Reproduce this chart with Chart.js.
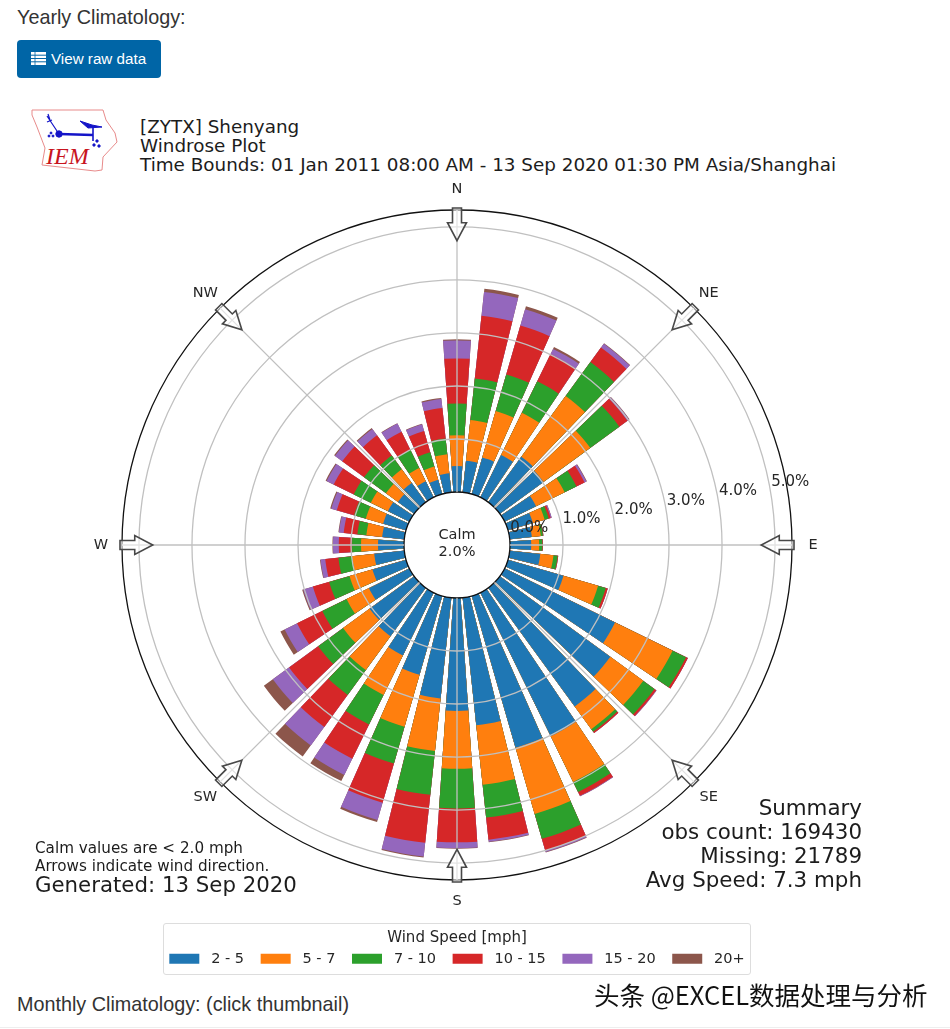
<!DOCTYPE html>
<html><head><meta charset="utf-8">
<script src="https://cdn.jsdelivr.net/npm/chart.js@4"></script>
<style>
html,body{margin:0;padding:0;background:#fff;width:950px;height:1029px;overflow:hidden}
.t{position:absolute;white-space:nowrap;line-height:1}
.h{font-family:"Liberation Sans",Arial,sans-serif;font-size:19.8px;color:#333;left:17px}
.m{font-family:"DejaVu Sans",sans-serif;color:#1c1c1c}
#btn{position:absolute;left:17px;top:40px;width:144px;height:38px;background:#0065a6;border-radius:4px;color:#fff;font:15.2px "Liberation Sans",Arial,sans-serif}
#btn span{position:absolute;left:34px;top:11px;line-height:1;white-space:nowrap}
#btn svg{position:absolute;left:14px;top:12px}
#frame{position:absolute;left:163px;top:923px;width:586px;height:50px;border:1.5px solid #ddd;border-radius:3px}
canvas{position:absolute;left:0;top:0}
#wrap{position:absolute;left:0;top:0;width:950px;height:976px}
</style></head><body>
<div class="t h" style="top:8px">Yearly Climatology:</div>
<div id="btn"><svg width="15" height="13" viewBox="0 0 15 13"><rect width="15" height="13" fill="#fff"/><path d="M0 3.2h15M0 6.5h15M0 9.8h15" stroke="#0065a6" stroke-width="1"/><path d="M4 0v13" stroke="#0065a6" stroke-width=".8"/></svg><span>View raw data</span></div>
<svg style="position:absolute;left:0;top:100px" width="130" height="80" viewBox="0 100 130 80">
<path d="M32 110L103 110L106 120L115 133L117 142L103 157L102 170L95 171L42 165L45 148L37 127L32 115Z" fill="none" stroke="#e88b8b" stroke-width="1"/>
<g stroke="#1414c8" fill="#1414c8">
<path d="M59 134L93 135" stroke-width="2.6"/><circle cx="59" cy="134" r="3.2"/>
<path d="M47 116L59 134M47 122L52 120M48 114L50 120" fill="none" stroke-width="1.2"/>
<path d="M80 121L92 125L102 127L88 128Z" stroke-width="1"/>
<path d="M93 127V141" stroke-width="1.6"/>
<circle cx="51" cy="133" r="1"/><circle cx="49" cy="136" r="1"/><circle cx="53" cy="136" r="1"/>
<circle cx="97" cy="141" r="1.2"/><circle cx="94" cy="145" r="1.2"/><circle cx="99" cy="146" r="1.2"/>
</g>
<text x="46" y="164" font-family="Liberation Serif" font-style="italic" font-size="24" fill="#c8141e">IEM</text>
</svg>
<div class="t m" style="left:140px;top:118px;font-size:18.35px">[ZYTX] Shenyang</div>
<div class="t m" style="left:140px;top:137px;font-size:18.35px">Windrose Plot</div>
<div class="t m" style="left:140px;top:156px;font-size:18.35px">Time Bounds: 01 Jan 2011 08:00 AM - 13 Sep 2020 01:30 PM Asia/Shanghai</div>
<div id="frame"></div>
<div id="wrap"><canvas id="c" width="950" height="976" style="width:950px;height:976px"></canvas></div>
<div class="t m" style="left:35px;top:841px;font-size:15.2px">Calm values are &lt; 2.0 mph</div>
<div class="t m" style="left:35px;top:859px;font-size:15.2px">Arrows indicate wind direction.</div>
<div class="t m" style="left:35px;top:874px;font-size:21.3px">Generated: 13 Sep 2020</div>
<div class="t m" style="right:88px;top:797px;font-size:21.4px">Summary</div>
<div class="t m" style="right:88px;top:821px;font-size:21.4px">obs count: 169430</div>
<div class="t m" style="right:88px;top:845px;font-size:21.4px">Missing: 21789</div>
<div class="t m" style="right:88px;top:869px;font-size:21.4px">Avg Speed: 7.3 mph</div>
<div class="t h" style="top:995px">Monthly Climatology: (click thumbnail)</div>
<div class="t" style="left:594px;top:981px;font:25.5px 'Noto Sans CJK SC','Liberation Sans',sans-serif;line-height:1;color:#111">头条 @EXCEL数据处理与分析</div>
<div style="position:absolute;left:0;top:1027px;width:950px;height:1px;background:#eee"></div>
<script>
const directions = [0,10,20,30,40,50,60,70,80,90,100,110,120,130,140,150,160,170,180,190,200,210,220,230,240,250,260,270,280,290,300,310,320,330,340,350];
const compassLabels = ['N','NE','E','SE','S','SW','W','NW'];
const speedBins = ['2 - 5','5 - 7','7 - 10','10 - 15','15 - 20','20+'];
const binColors = ['#1f77b4','#ff7f0e','#2ca02c','#d62728','#9467bd','#8c564b'];
const speed2to5   = [.49,.60,.72,.89,1.06,1.02,.66,.49,.42,.40,.58,1.09,2.32,2.58,2.77,3.02,2.98,2.42,2.13,1.91,1.55,1.32,1.13,1.04,.85,.66,.57,.49,.42,.45,.45,.38,.45,.34,.28,.36];
const speed5to7   = [.58,.77,.91,.89,1.42,1.09,.60,.23,.17,.15,.25,.68,1.21,.77,.53,.96,1.30,1.13,1.09,1.00,1.02,.83,.79,.62,.47,.45,.42,.32,.30,.34,.36,.28,.32,.28,.26,.36];
const speed7to10  = [.60,.79,.72,.66,.79,.68,.25,.08,.04,.06,.08,.15,.28,.26,.06,.21,.49,.62,.75,.83,.72,.62,.58,.58,.51,.40,.26,.17,.17,.23,.36,.51,.32,.38,.28,.30];
const speed10to15 = [.85,1.19,.96,.57,.34,.19,.17,.04,.01,.01,.01,.04,.04,.04,.03,.08,.23,.42,.64,.91,.77,.72,.75,.68,.53,.32,.25,.25,.26,.34,.42,.51,.47,.38,.42,.58];
const speed15to20 = [.34,.45,.32,.11,.09,.04,.04,.02,0,0,0,0,0,.01,0,.01,.03,.04,.11,.26,.34,.34,.43,.38,.26,.19,.09,.11,.09,.11,.15,.17,.15,.17,.13,.17];
const speed20plus = [.02,.06,.06,.04,.01,.01,.01,0,0,0,0,0,0,0,0,0,.01,.01,.01,.02,.04,.13,.26,.21,.09,.02,.01,.01,.01,.02,.02,.02,.02,.01,.01,.02];
const binSeries = [speed2to5,speed5to7,speed7to10,speed10to15,speed15to20,speed20plus];
const calmText = ['Calm','2.0%'];
const R_MIN = -1, R_MAX = 5.32, BAR_DEG = 7.8, GAP_DEG = 2.2;

/* each direction = one bar slot + one gap slot; polar-area arcs overlap, so each dataset holds the running total */
const labels = [];
directions.forEach(d => labels.push(d + '°', ''));
const running = directions.map(() => 0);
const datasets = binSeries.map((vals, b) => {
  const data = [];
  vals.forEach((v, i) => { running[i] += v; data.push(+running[i].toFixed(2), R_MIN); });
  return {label: speedBins[b], data, backgroundColor: binColors[b], borderWidth: 0,
          angle: ctx => ctx.dataIndex % 2 === 0 ? BAR_DEG : GAP_DEG};
});

const ink = '#262626';
const windrosePlugin = {
  id: 'windrose',
  afterDatasetsDraw(chart) {
    const s = chart.scales.r, c = chart.ctx;
    c.save();
    c.beginPath();
    c.arc(s.xCenter, s.yCenter, s.getDistanceFromCenterForValue(0), 0, Math.PI * 2);
    c.fillStyle = '#fff'; c.fill();
    c.restore();
  },
  afterDraw(chart) {
    const s = chart.scales.r, c = chart.ctx;
    const pt = (deg, r) => {
      const a = deg * Math.PI / 180;
      return {x: s.xCenter + r * Math.sin(a), y: s.yCenter - r * Math.cos(a)};
    };
    const r0 = s.getDistanceFromCenterForValue(0), rM = s.getDistanceFromCenterForValue(R_MAX);
    c.save();
    /* spokes */
    c.strokeStyle = '#c0c0c0'; c.lineWidth = 1.3;
    compassLabels.forEach((_, i) => {
      const a = pt(i * 45, r0), b = pt(i * 45, rM);
      c.beginPath(); c.moveTo(a.x, a.y); c.lineTo(b.x, b.y); c.stroke();
    });
    /* radial tick labels */
    c.fillStyle = ink; c.font = '15px "DejaVu Sans"'; c.textAlign = 'left'; c.textBaseline = 'alphabetic';
    s.ticks.forEach(t => {
      if (t.value < 0 || t.value > 5) return;
      const p = pt(80, s.getDistanceFromCenterForValue(t.value));
      c.fillText(t.value.toFixed(1) + '%', p.x + 1, p.y - 3.5);
    });
    /* arrows + compass labels */
    c.font = '14.5px "DejaVu Sans"';
    compassLabels.forEach((lab, i) => {
      const deg = i * 45, tipR = s.getDistanceFromCenterForValue(4.74), baseR = tipR + 18, endR = rM + 2;
      c.save();
      c.translate(s.xCenter, s.yCenter);
      c.rotate(deg * Math.PI / 180);
      c.beginPath();
      c.moveTo(0, -tipR); c.lineTo(9.5, -baseR); c.lineTo(4.5, -baseR);
      c.lineTo(4.5, -endR); c.lineTo(-4.5, -endR); c.lineTo(-4.5, -baseR); c.lineTo(-9.5, -baseR);
      c.closePath();
      c.fillStyle = 'rgba(255,255,255,.55)'; c.fill();
      c.strokeStyle = '#484848'; c.lineWidth = 1.6; c.stroke();
      c.restore();
      const p = pt(deg, s.getDistanceFromCenterForValue(5.717));
      c.fillStyle = ink; c.textAlign = 'center'; c.textBaseline = 'middle';
      c.fillText(lab, p.x, p.y);
    });
    c.fillStyle = ink; c.textAlign = 'center'; c.textBaseline = 'middle';
    c.fillText(calmText[0], s.xCenter, s.yCenter - 10);
    c.fillText(calmText[1], s.xCenter, s.yCenter + 7.5);
    c.restore();
  }
};

new Chart(document.getElementById('c'), {
  type: 'polarArea',
  data: {labels, datasets},
  plugins: [windrosePlugin],
  options: {
    responsive: false, animation: false,
    layout: {padding: {left: 122, right: 158, top: 209, bottom: 0}},
    scales: {r: {
      min: R_MIN, max: R_MAX, startAngle: -BAR_DEG / 2,
      ticks: {display: false, stepSize: 1},
      angleLines: {display: false},
      pointLabels: {display: false},
      grid: {z: 1, lineWidth: ctx => (ctx.tick && (ctx.tick.value === 0 || ctx.tick.value === R_MAX)) ? 1.3 : 1.3,
        color: ctx => (ctx.tick && (ctx.tick.value === 0 || ctx.tick.value === R_MAX)) ? '#111' : '#c0c0c0'}
    }},
    plugins: {
      tooltip: {enabled: false},
      legend: {
        position: 'bottom',
        title: {display: true, text: 'Wind Speed [mph]', color: ink,
                font: {family: '"DejaVu Sans"', size: 15}, padding: {top: 48, bottom: -14}},
        labels: {
          boxWidth: 30, boxHeight: 10, padding: 16.6, color: ink,
          font: {family: '"DejaVu Sans"', size: 14.5},
          generateLabels: () => speedBins.map((t, i) => ({text: ' ' + t, fillStyle: binColors[i], strokeStyle: binColors[i], lineWidth: 0, hidden: false, datasetIndex: i}))
        }
      }
    }
  }
});
</script>
</body></html>
